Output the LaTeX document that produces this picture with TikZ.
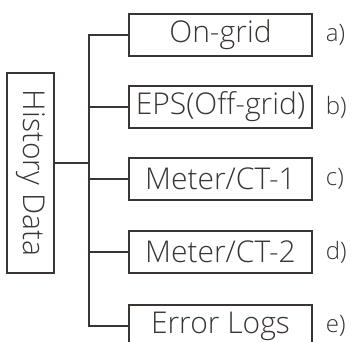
\documentclass[tikz,border=0pt]{standalone}
\usepackage{fontspec}
\setmainfont{Open Sans Light}
\usepackage{tikz}
\usetikzlibrary{positioning}
\definecolor{InkGray}{HTML}{3A3533}

\begin{document}
\begin{tikzpicture}[x=1pt,y=-1pt,
  item/.style={rectangle,draw=InkGray,line width=1.4pt,minimum width=183pt,
               minimum height=42pt,inner sep=0pt,text=InkGray,
               font=\fontsize{30}{32}\selectfont},
  histbox/.style={rectangle,draw=InkGray,line width=1.4pt,minimum width=200pt,
                  minimum height=47pt,inner sep=0pt,text=InkGray,rotate=-90,
                  font=\fontsize{30}{32}\selectfont},
  tag/.style={anchor=west,inner sep=0pt,text=InkGray,
              font=\fontsize{24}{26}\selectfont},
  wire/.style={draw=InkGray,line width=1.4pt}]
\useasboundingbox[clip] (0,0) rectangle (351,342);
\node[histbox] (hist) at (30.5,173) {History Data};
\node[item] (g1) at (220.5,35) {On-grid};
\node[item] (g2) at (220.5,107) {EPS(Off-grid)};
\node[item] (g3) at (220.5,179) {Meter/CT-1};
\node[item] (g4) at (220.5,252) {Meter/CT-2};
\node[item] (g5) at (220.5,326) {Error Logs};
\node[tag,right=13pt of g1] (t1) {a)};
\node[tag,right=13pt of g2] (t2) {b)};
\node[tag,right=13pt of g3] (t3) {c)};
\node[tag,right=13pt of g4] (t4) {d)};
\node[tag,right=13pt of g5] (t5) {e)};
\coordinate (hub) at (89,163);
% trunk and branches
\draw[wire] (g1.west) -| (hub |- g1) -- (hub |- g5) -- (g5.west);
\draw[wire] (g2.west) -- (hub |- g2);
\draw[wire] (g3.west) -- (hub |- g3);
\draw[wire] (g4.west) -- (hub |- g4);
\draw[wire] (hist.north |- hub) -- (hub);
\end{tikzpicture}
\end{document}
